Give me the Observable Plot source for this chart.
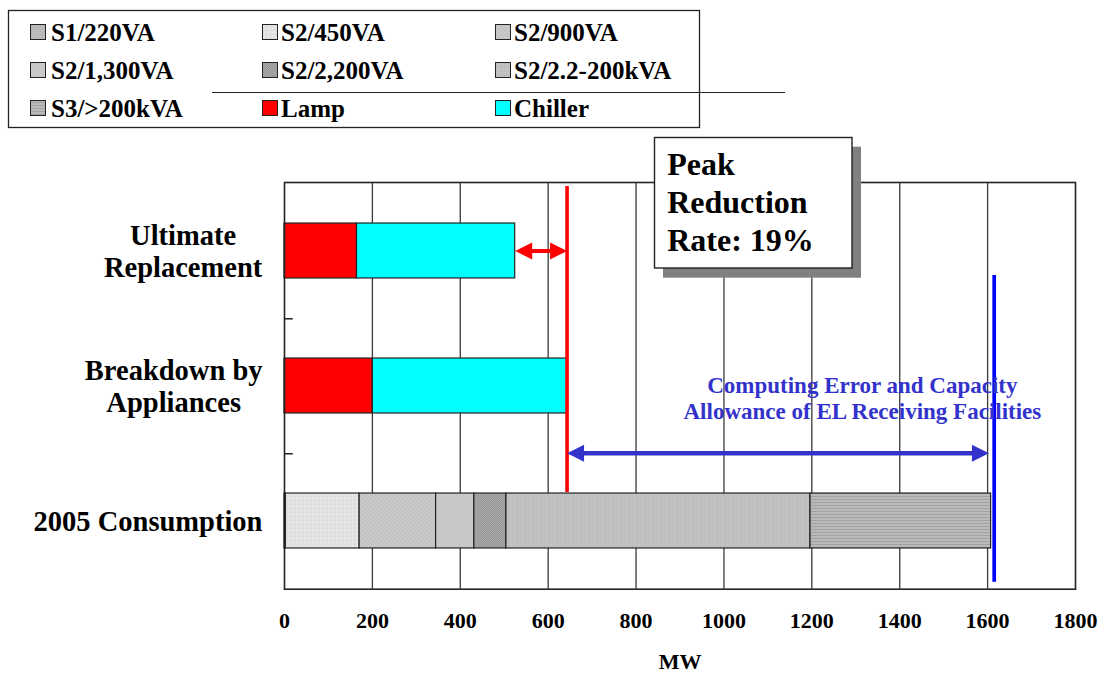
<!DOCTYPE html>
<html>
<head>
<meta charset="utf-8">
<script src="https://cdn.jsdelivr.net/npm/d3@7"></script>
<script src="https://cdn.jsdelivr.net/npm/@observablehq/plot@0.6"></script>
<style>
  html, body { margin: 0; padding: 0; background: #fff; }
  #page { width: 1106px; height: 673px; overflow: hidden; background: #fff; }
  svg text { font-family: "Liberation Serif", "Times New Roman", serif; }
</style>
</head>
<body>
<!-- Fill textures for the tariff groups -->
<svg width="0" height="0" style="position:absolute">
  <defs>
    <pattern id="fill-s1" width="4" height="4" patternUnits="userSpaceOnUse">
      <rect width="4" height="4" fill="#b8b8b8"/><rect width="1" height="1" fill="#cacaca"/><rect x="2" y="2" width="1" height="1" fill="#cacaca"/>
    </pattern>
    <pattern id="fill-450" width="4" height="4" patternUnits="userSpaceOnUse">
      <rect width="4" height="4" fill="#e2e2e2"/><rect width="1" height="1" fill="#f2f2f2"/><rect x="2" y="2" width="1" height="1" fill="#d2d2d2"/><rect x="1" y="3" width="1" height="1" fill="#eeeeee"/>
    </pattern>
    <pattern id="fill-900" width="4" height="4" patternUnits="userSpaceOnUse">
      <rect width="4" height="4" fill="#c2c2c2"/><rect width="1" height="1" fill="#d2d2d2"/><rect x="1" y="1" width="1" height="1" fill="#d2d2d2"/><rect x="2" y="2" width="1" height="1" fill="#d2d2d2"/><rect x="3" y="3" width="1" height="1" fill="#d2d2d2"/>
    </pattern>
    <pattern id="fill-1300" width="2" height="2" patternUnits="userSpaceOnUse">
      <rect width="2" height="2" fill="#c2c2c2"/><rect width="1" height="1" fill="#cfcfcf"/><rect x="1" y="1" width="1" height="1" fill="#cfcfcf"/>
    </pattern>
    <pattern id="fill-2200" width="2" height="2" patternUnits="userSpaceOnUse">
      <rect width="2" height="2" fill="#989898"/><rect width="1" height="1" fill="#a8a8a8"/><rect x="1" y="1" width="1" height="1" fill="#a8a8a8"/>
    </pattern>
    <pattern id="fill-2k" width="4" height="4" patternUnits="userSpaceOnUse">
      <rect width="4" height="4" fill="#c0c0c0"/><rect x="1" width="1" height="1" fill="#cbcbcb"/><rect x="3" y="2" width="1" height="1" fill="#cbcbcb"/><rect y="3" width="1" height="1" fill="#b4b4b4"/>
    </pattern>
    <pattern id="fill-s3" width="4" height="3" patternUnits="userSpaceOnUse">
      <rect width="4" height="3" fill="#bababa"/><rect width="4" height="1" fill="#a2a2a2"/>
    </pattern>
  </defs>
</svg>
<div id="page"></div>
<script>
// ---- Data (MW) ----
const categories = ["Ultimate Replacement", "Breakdown by Appliances", "2005 Consumption"];
const categoryLabels = ["Ultimate\nReplacement", "Breakdown by\nAppliances", "2005 Consumption"];

const supplyGroups = ["S1/220VA", "S2/450VA", "S2/900VA", "S2/1,300VA", "S2/2,200VA", "S2/2.2-200kVA", "S3/>200kVA"];
const consumption2005 = [3, 168, 174, 87, 73, 692, 411];

const endUses = ["Lamp", "Chiller"];
const ultimateReplacement = [165, 360];
const breakdownByAppliances = [201, 442];

const xTicks = [0, 200, 400, 600, 800, 1000, 1200, 1400, 1600, 1800];

const capacityLimit = 1615;          // EL receiving facilities
const allowanceSpan = [643, 1603];   // computing error and capacity allowance
const peakNote = "Peak\nReduction\nRate: 19%";
const allowanceNote = "Computing Error and Capacity\nAllowance of EL Receiving Facilities";

// ---- Derived table ----
const rows = [
  ...endUses.map((s, i) => ({category: categories[0], series: s, value: ultimateReplacement[i]})),
  ...endUses.map((s, i) => ({category: categories[1], series: s, value: breakdownByAppliances[i]})),
  ...supplyGroups.map((s, i) => ({category: categories[2], series: s, value: consumption2005[i]}))
];
const peakLevel = d3.sum(breakdownByAppliances);
const replacementTotal = d3.sum(ultimateReplacement);

// ---- Styling ----
const seriesFills = ["url(#fill-s1)", "url(#fill-450)", "url(#fill-900)", "url(#fill-1300)",
  "url(#fill-2200)", "url(#fill-2k)", "url(#fill-s3)", "#ff0000", "#00ffff"];
const serif = "'Liberation Serif', 'Times New Roman', serif";

const W = 1106, H = 543;
const mt = 52, mb = 84.3, ml = 284, mr = 31;
const step = (H - mt - mb) / categories.length;
const barInset = (step - 55.5) / 2;

// filled triangular arrow heads (tip at the anchor point)
const arrowHead = dir => ({
  draw(ctx, size) {
    const r = Math.sqrt(size / Math.PI), w = r * 0.5;
    ctx.moveTo(0, 0);
    ctx.lineTo(-dir * r, -w);
    ctx.lineTo(-dir * r, w);
    ctx.closePath();
  }
});

const page = document.getElementById("page");

// ---- Legend ----
const legendNames = [...supplyGroups, ...endUses];
const legend = d3.create("svg").attr("width", W).attr("height", 130).style("display", "block");
legend.append("rect").attr("x", 8.5).attr("y", 10.5).attr("width", 691).attr("height", 117)
  .attr("fill", "white").attr("stroke", "#222").attr("stroke-width", 1.3);
legend.append("line").attr("x1", 212).attr("x2", 785).attr("y1", 92.5).attr("y2", 92.5)
  .attr("stroke", "#222").attr("stroke-width", 1);
const swatchX = [30, 262, 495], labelX = [51, 281, 514], rowBase = [40.5, 78.5, 116.5];
legendNames.forEach((name, i) => {
  const c = i % 3, r = Math.floor(i / 3);
  legend.append("rect").attr("x", swatchX[c] + 0.5).attr("y", rowBase[r] - 16).attr("width", 15).attr("height", 15)
    .attr("fill", seriesFills[i]).attr("stroke", "#222").attr("stroke-width", 1);
  legend.append("text").attr("x", labelX[c]).attr("y", rowBase[r])
    .attr("font-size", 25).attr("font-weight", "bold").attr("fill", "#000").text(name);
});
page.appendChild(legend.node());

// ---- Chart ----
const chart = Plot.plot({
  width: W, height: H,
  marginTop: mt, marginBottom: mb, marginLeft: ml, marginRight: mr,
  style: {fontFamily: serif, fontWeight: "bold", background: "white", color: "black"},
  x: {domain: [0, 1800], axis: null},
  y: {domain: categories, axis: null, padding: 0},
  color: {domain: legendNames, range: seriesFills},
  marks: [
    Plot.ruleX(xTicks.slice(1, -1), {stroke: "#3a3a3a", strokeWidth: 1.3}),
    Plot.barX(rows, Plot.stackX({
      x: "value", y: "category", fill: "series",
      stroke: "#222", strokeWidth: 1.2, insetTop: barInset, insetBottom: barInset
    })),
    Plot.frame({stroke: "#222", strokeWidth: 1.6}),
    // small ticks between categories
    Plot.ruleY(categories.slice(0, -1), {y: d => d, x1: 0, x2: 20, dy: step / 2, stroke: "#222", strokeWidth: 1.5}),
    // peak demand level and receiving capacity
    Plot.ruleX([peakLevel], {stroke: "#ff0000", strokeWidth: 3.6, insetTop: 4, insetBottom: 96.7}),
    Plot.ruleX([capacityLimit], {stroke: "#0000ff", strokeWidth: 3.7, insetTop: 93, insetBottom: 7}),
    // reduction arrow
    Plot.ruleY([categories[0]], {y: d => d, x1: replacementTotal, x2: peakLevel, insetLeft: 10, insetRight: 10,
      stroke: "#ff0000", strokeWidth: 4}),
    Plot.dot([replacementTotal], {x: d => d, y: () => categories[0], symbol: arrowHead(-1), r: 17, fill: "#ff0000", stroke: "none"}),
    Plot.dot([peakLevel], {x: d => d, y: () => categories[0], symbol: arrowHead(1), r: 17, fill: "#ff0000", stroke: "none"}),
    // allowance arrow
    Plot.ruleY([categories[2]], {y: d => d, x1: allowanceSpan[0], x2: allowanceSpan[1], dy: -step / 2,
      insetLeft: 10, insetRight: 10, stroke: "#3333cc", strokeWidth: 4.5}),
    Plot.dot([allowanceSpan[0]], {x: d => d, y: () => categories[2], dy: -step / 2, symbol: arrowHead(-1), r: 17, fill: "#3333cc", stroke: "none"}),
    Plot.dot([allowanceSpan[1]], {x: d => d, y: () => categories[2], dy: -step / 2, symbol: arrowHead(1), r: 17, fill: "#3333cc", stroke: "none"}),
    Plot.text([allowanceNote], {x: () => 1315, y: () => categories[1], dy: 11.5, text: d => d,
      fill: "#3333cc", fontSize: 23, fontWeight: "bold", lineHeight: 1.13, textAnchor: "middle"}),
    // x tick labels and title
    Plot.text(xTicks, {x: d => d, text: d => String(d), frameAnchor: "bottom", lineAnchor: "top", dy: 23,
      fontSize: 22, fontWeight: "bold", fill: "black"}),
    Plot.text(["MW"], {frameAnchor: "bottom", lineAnchor: "bottom", dy: 79.3, text: d => d,
      fontSize: 22, fontWeight: "bold", fill: "black"}),
    // category labels
    Plot.text(categories, {y: d => d, text: (d, i) => categoryLabels[i], frameAnchor: "left", textAnchor: "end",
      dx: -22, dy: 0, lineHeight: 1.13, fontSize: 28.5, fontWeight: "bold", fill: "black"}),
    // peak reduction note
    Plot.text([peakNote], {frameAnchor: "top-left", textAnchor: "start", lineAnchor: "top", dx: 382.7, dy: -34,
      text: d => d, lineHeight: 1.1875, fontSize: 32, fontWeight: "bold", fill: "black"})
  ]
});
page.appendChild(chart);

const svg = d3.select(chart);
const flat = s => s.replace(/\n/g, "");
const texts = svg.selectAll("text").nodes();

// Note box behind the peak reduction text
const noteText = texts.find(t => t.textContent === flat(peakNote));
const noteGroup = noteText ? noteText.parentNode : null;
const box = noteGroup ? svg.insert("g", () => noteGroup) : svg.append("g");
box.append("rect").attr("x", 663).attr("y", 16.7).attr("width", 198).attr("height", 131).attr("fill", "#808080");
box.append("rect").attr("x", 654.5).attr("y", 7.5).attr("width", 197.5).attr("height", 130.5)
  .attr("fill", "white").attr("stroke", "#222").attr("stroke-width", 1.4);

// Center each line of a category label within its block (block stays right-aligned)
const labelSet = new Set(categoryLabels.map(flat));
texts.filter(t => labelSet.has(t.textContent)).forEach(t => {
  const w = t.getBBox().width;
  t.setAttribute("text-anchor", "middle");
  const spans = t.querySelectorAll("tspan");
  if (spans.length) spans.forEach(s => s.setAttribute("x", -w / 2));
  else t.setAttribute("x", -w / 2);
});
</script>
</body>
</html>
